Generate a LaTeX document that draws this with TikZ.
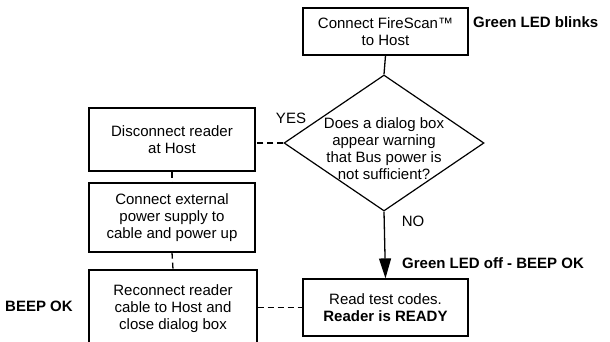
\documentclass[tikz,border=0pt]{standalone}
\usepackage{fontspec}
\setmainfont{Liberation Sans}
\usetikzlibrary{arrows.meta, shapes.geometric}
\tikzset{
    stepbox/.style={draw,line width=1.2pt,inner sep=0pt,align=center},
    ask/.style={diamond,draw,line width=1.2pt,inner sep=0pt,minimum width=200pt,minimum height=136pt},
    tt/.style={inner sep=0pt,align=center},
    bt/.style={inner sep=0pt,font=\fontsize{15}{17}\selectfont\bfseries},
    solid link/.style={draw,line width=1.3pt},
    dash link/.style={draw,line width=1.3pt,dash pattern=on 6pt off 4pt},
}
\begin{document}
\begin{tikzpicture}[x=1pt,y=-1pt,font=\fontsize{15}{17}\selectfont]
    \useasboundingbox (0,0) rectangle (610,342);
    \clip (0,0) rectangle (610,342);
    \node[stepbox,minimum width=165pt,minimum height=47pt] (conn) at (385.5,31.5) {Connect FireScan™\\to Host};
    \node[ask] (q) at (384,143) {};
    \node[tt] (qtext) at (384,149) {Does a dialog box\\appear warning\\that Bus power is\\not sufficient?};
    \node[stepbox,minimum width=166pt,minimum height=63pt] (disc) at (172,139.5) {Disconnect reader\\at Host};
    \node[stepbox,minimum width=166pt,minimum height=69pt] (ext) at (172,217.5) {Connect external\\power supply to\\cable and power up};
    \node[stepbox,minimum width=168pt,minimum height=78pt] (recon) at (173,309) {Reconnect reader\\cable to Host and\\close dialog box};
    \node[stepbox,minimum width=165pt,minimum height=57pt] (read) at (385.5,307.5) {Read test codes.\\\textbf{Reader is READY}};
    \node[bt,anchor=west] (blinks) at (473,22) {Green LED blinks};
    \node[tt] (yes) at (291,118) {YES};
    \node[tt] (no) at (413,221) {NO};
    \node[bt,anchor=west] (ledoff) at (402,263) {Green LED off - BEEP OK};
    \node[bt,anchor=west] (beep) at (5,306) {BEEP OK};
    \path[solid link] (conn.south) -- (q.north);
    \path[solid link,-{Triangle[width=12pt,length=20pt]}] (q.south) -- (read.north);
    \path[dash link] (q.west) -- (q.west -| disc.east);
    \path[dash link] (disc.south) -- (ext.north);
    \path[dash link] (ext.south) -- (recon.north);
    \path[dash link] (recon.east |- read.west) -- (read.west);
\end{tikzpicture}
\end{document}
